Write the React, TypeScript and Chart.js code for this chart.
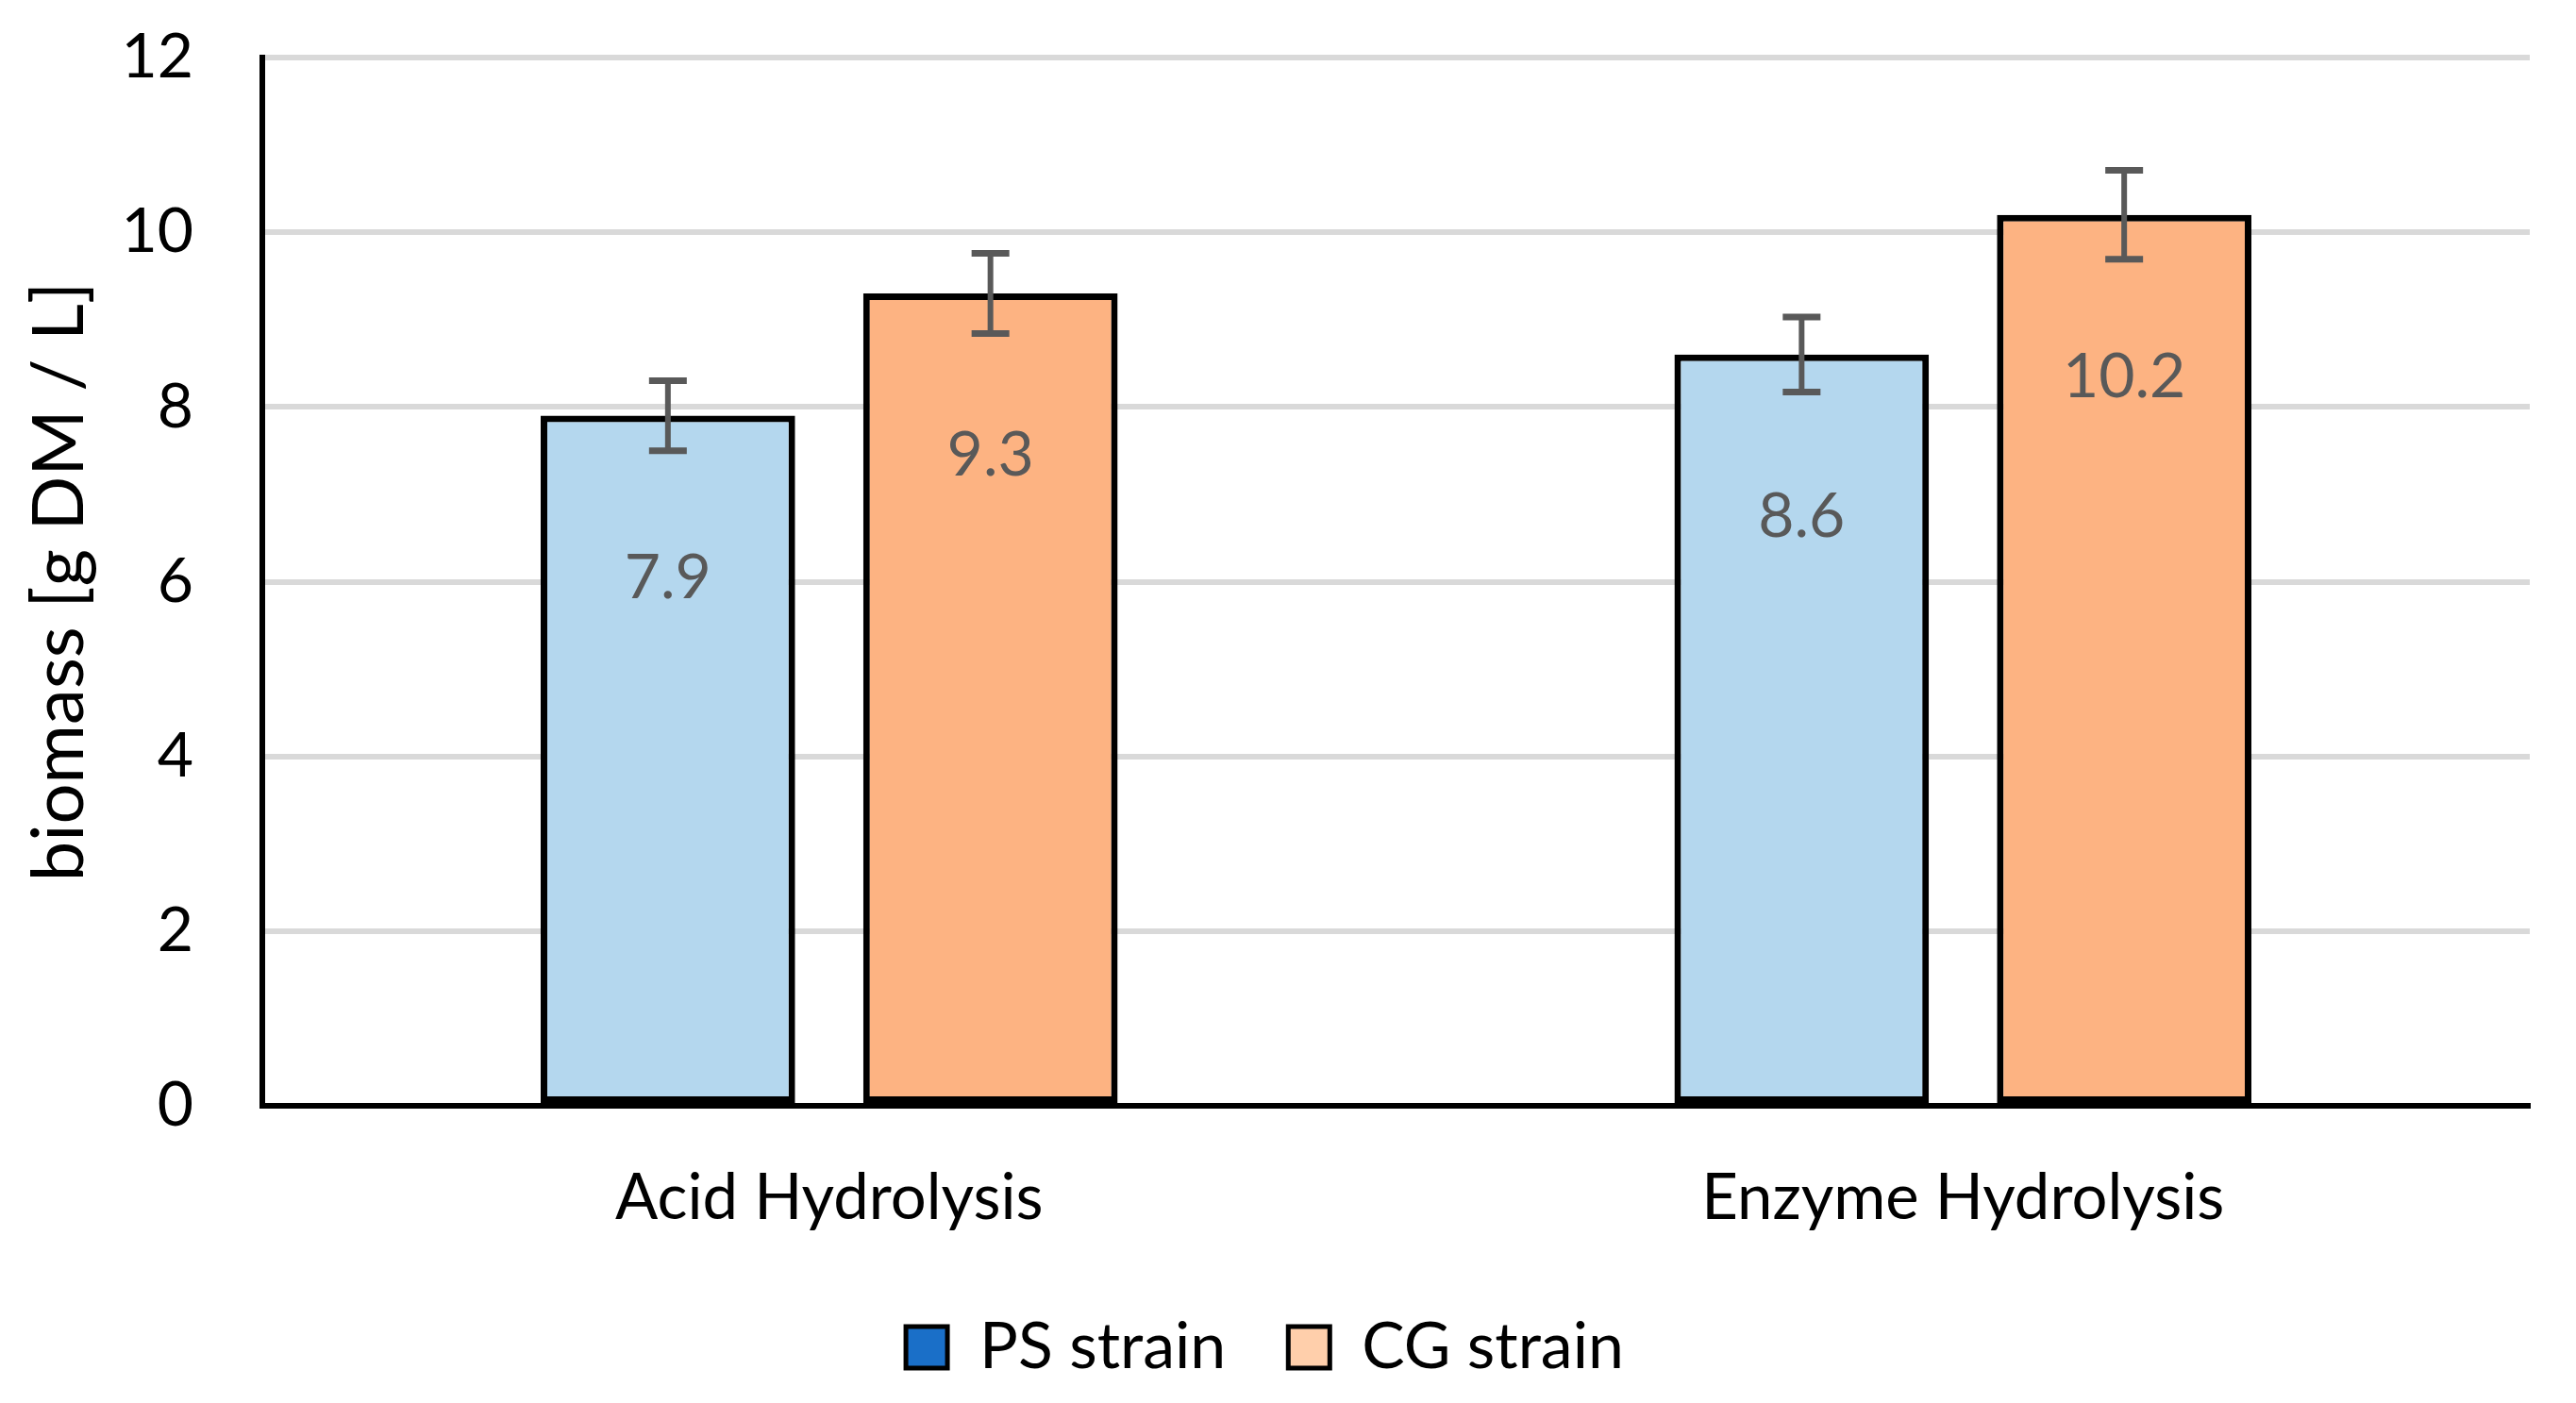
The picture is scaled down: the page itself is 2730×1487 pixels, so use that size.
import { useEffect, useRef } from 'react';
import { Chart, registerables } from 'chart.js';

Chart.register(...registerables);

const categories = ['Acid Hydrolysis', 'Enzyme Hydrolysis'];
const seriesNames = ['PS strain', 'CG strain'];
const psValues = [7.9, 8.6];
const cgValues = [9.3, 10.2];
const psErrors = [0.4, 0.43];
const cgErrors = [0.46, 0.51];
const yMin = 0;
const yMax = 12;
const yStep = 2;
const yTitle = 'biomass [g DM / L]';

const barColors = ['#B4D7EE', '#FDB382'];
const legendColors = ['#1A6FC8', '#FFCFAB'];
const FONT = 'Lato';

const errorAndLabelPlugin = {
  id: 'errorAndLabel',
  afterDatasetsDraw(chart: any) {
    const ctx = chart.ctx;
    const yScale = chart.scales.y;
    chart.data.datasets.forEach((ds: any, di: number) => {
      const meta = chart.getDatasetMeta(di);
      meta.data.forEach((bar: any, i: number) => {
        const v = ds.data[i];
        const e = ds.errors[i];
        const x = bar.x;
        // value label
        ctx.save();
        ctx.fillStyle = '#595959';
        ctx.font = `66px ${FONT}`;
        ctx.textAlign = 'center';
        ctx.textBaseline = 'middle';
        ctx.fillText(String(v), x, bar.y + 172);
        ctx.restore();
        // error bar
        const yTop = yScale.getPixelForValue(v + e);
        const yBot = yScale.getPixelForValue(v - e);
        ctx.save();
        ctx.strokeStyle = '#595959';
        ctx.lineWidth = 6;
        ctx.beginPath();
        ctx.moveTo(x, yTop);
        ctx.lineTo(x, yBot);
        ctx.stroke();
        ctx.lineWidth = 7;
        ctx.beginPath();
        ctx.moveTo(x - 20, yTop);
        ctx.lineTo(x + 20, yTop);
        ctx.moveTo(x - 20, yBot);
        ctx.lineTo(x + 20, yBot);
        ctx.stroke();
        ctx.restore();
      });
    });
  },
};

export default function App() {
  const ref = useRef<HTMLCanvasElement | null>(null);

  useEffect(() => {
    if (!ref.current) return;
    Chart.defaults.font.family = FONT;
    const chart = new Chart(ref.current, {
      type: 'bar',
      data: {
        labels: categories,
        datasets: [
          {
            label: seriesNames[0],
            data: psValues,
            errors: psErrors,
            backgroundColor: barColors[0],
            borderColor: '#000000',
            borderWidth: 7,
            borderSkipped: false,
            categoryPercentage: 0.569,
            barPercentage: 0.789,
          } as any,
          {
            label: seriesNames[1],
            data: cgValues,
            errors: cgErrors,
            backgroundColor: barColors[1],
            borderColor: '#000000',
            borderWidth: 7,
            borderSkipped: false,
            categoryPercentage: 0.569,
            barPercentage: 0.789,
          } as any,
        ],
      },
      options: {
        animation: false,
        responsive: true,
        maintainAspectRatio: false,
        layout: { padding: { top: 61, right: 49, bottom: 15, left: 0 } },
        plugins: {
          tooltip: { enabled: false },
          legend: {
            position: 'bottom',
            labels: {
              font: { size: 68, family: FONT },
              color: '#000000',
              boxWidth: 44,
              boxHeight: 44,
              padding: 66,
              generateLabels: (c: any) =>
                c.data.datasets.map((ds: any, i: number) => ({
                  text: ds.label,
                  fillStyle: legendColors[i],
                  strokeStyle: '#000000',
                  lineWidth: 5,
                  fontColor: '#000000',
                  hidden: false,
                  datasetIndex: i,
                })),
            },
          },
        },
        scales: {
          x: {
            grid: { display: false, drawTicks: false },
            border: { display: true, color: '#000000', width: 6 },
            ticks: { font: { size: 67, family: FONT }, color: '#000000', padding: 58 },
            afterFit: (s: any) => {
              s.height = 156;
            },
          },
          y: {
            min: yMin,
            max: yMax,
            ticks: { stepSize: yStep, font: { size: 66, family: FONT }, color: '#000000', padding: 0 },
            grid: {
              drawTicks: true,
              tickLength: 73,
              tickColor: 'rgba(0,0,0,0)',
              lineWidth: 6,
              color: (c: any) => (c.tick && c.tick.value === 0 ? 'rgba(0,0,0,0)' : '#D9D9D9'),
            },
            border: { display: true, color: '#000000', width: 6 },
            title: {
              display: true,
              text: yTitle,
              color: '#000000',
              font: { size: 76, family: FONT },
              padding: { top: 18, bottom: 0 },
            },
            afterFit: (s: any) => {
              s.width = 278;
            },
          },
        },
      } as any,
      plugins: [errorAndLabelPlugin],
    });
    return () => chart.destroy();
  }, []);

  return (
    <div style={{ position: 'fixed', left: 0, top: 0, width: 2730, height: 1487, background: '#ffffff' }}>
      <canvas ref={ref} />
    </div>
  );
}
